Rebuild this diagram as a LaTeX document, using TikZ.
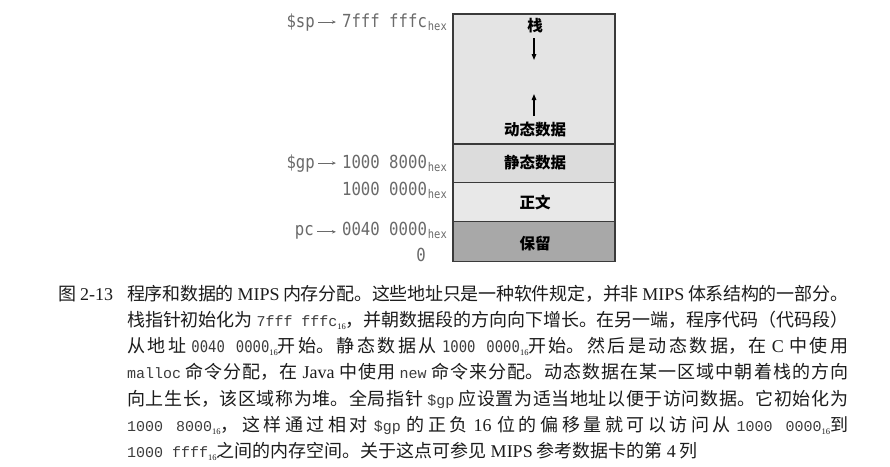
\documentclass[tikz,border=0pt]{standalone}
\usepackage{fontspec}
\setmainfont{Noto Sans CJK SC}
\newfontfamily\latfont{Liberation Serif}
\newfontfamily\codefont{Liberation Mono}
\newfontfamily\lblfont[FakeStretch=0.87]{DejaVu Sans Mono}
\usetikzlibrary{arrows.meta}
\XeTeXlinebreaklocale "zh"
\XeTeXlinebreakskip=0pt plus 4pt minus 0.8pt

\definecolor{segline}{HTML}{3A3A3A}
\definecolor{lightseg}{HTML}{E4E4E4}
\definecolor{midseg}{HTML}{DCDCDC}
\definecolor{paleseg}{HTML}{E8E8E8}
\definecolor{darkseg}{HTML}{A8A8A8}
\definecolor{lblgray}{HTML}{6A6A6A}
\definecolor{capink}{HTML}{1C1C1C}
\definecolor{codeink}{HTML}{3C3C3C}

% caption helpers
\newcommand\latw[1]{{\latfont #1}}
\newcommand\cdw[1]{{\color{codeink}\codefont\fontsize{15}{16}\selectfont #1}}
\newcommand\cdsans[1]{{\color{codeink}\lblfont\fontsize{16}{18}\selectfont #1}}
\newcommand\sixteen{\raisebox{-3pt}{\latfont\fontsize{8.5}{9}\selectfont 16}}
% address labels beside the memory map
\newcommand\hexaddr[1]{{\lblfont\fontsize{18}{20}\selectfont #1}\kern1pt\raisebox{-3.5pt}{\lblfont\fontsize{12}{13}\selectfont hex}}

\begin{document}
\begin{tikzpicture}[x=1pt,y=-1pt,
  seg/.style={draw=segline, line width=1.5pt, minimum width=162pt,
    anchor=north west, inner sep=0pt, outer sep=0pt},
  boxlbl/.style={font=\bfseries\fontsize{15.5}{17}\selectfont, inner sep=0pt, text=black},
  growarrow/.style={-{Triangle[length=6pt,width=4.5pt]}, line width=1.3pt, black},
  reglbl/.style={anchor=base east, inner sep=0pt, text=lblgray,
    font=\lblfont\fontsize{18}{20}\selectfont},
  addrlbl/.style={anchor=base east, inner sep=0pt, text=lblgray},
  ptr/.style={-{Stealth[length=4pt,width=3.5pt]}, line width=0.8pt, lblgray,
    shorten <=3pt, shorten >=6pt},
  capline/.style={anchor=base west, inner sep=0pt, text=capink,
    font=\fontsize{18}{26.3}\selectfont}
]
\useasboundingbox (0,0) rectangle (890,466);
\fill[white] (0,0) rectangle (890,466);

% memory segments, top to bottom
\node[seg, fill=lightseg, minimum height=130pt] (dyn) at (453,14) {};
\node[seg, fill=midseg, minimum height=38.5pt] (stat) at (453,144) {};
\node[seg, fill=paleseg, minimum height=39pt] (txt) at (453,182.5) {};
\node[seg, fill=darkseg, minimum height=40pt] (resv) at (453,221.5) {};

% segment labels
\node[boxlbl] (zhan) at (535,26) {栈};
\node[boxlbl] (dynl) at (535,130) {动态数据};
\node[boxlbl] (statl) at (535,162.5) {静态数据};
\node[boxlbl] (txtl) at (535,202) {正文};
\node[boxlbl] (resvl) at (535,244) {保留};

% stack grows down, heap grows up
\coordinate (downstart) at (534,38);
\coordinate (downend) at (534,60);
\coordinate (upstart) at (534,116);
\coordinate (upend) at (534,94);
\draw[growarrow] (downstart) -- (downend);
\draw[growarrow] (upstart) -- (upend);

% register pointers and addresses
\node[reglbl] (sp) at (315,27) {\$sp};
\node[addrlbl] (spaddr) at (447,27) {\hexaddr{7fff fffc}};
\draw[ptr] (sp.east) -- (sp.east -| spaddr.west);

\node[reglbl] (gp) at (315,168) {\$gp};
\node[addrlbl] (gpaddr) at (447,168) {\hexaddr{1000 8000}};
\draw[ptr] (gp.east) -- (gp.east -| gpaddr.west);

\node[addrlbl] (dataaddr) at (447,195) {\hexaddr{1000 0000}};

\node[reglbl] (pc) at (314,235) {pc};
\node[addrlbl] (pcaddr) at (447,235) {\hexaddr{0040 0000}};
\draw[ptr] (pc.east) -- (pc.east -| pcaddr.west);

\node[reglbl] (zero) at (426,261) {0};

% caption
\node[capline] (capno) at (58,300) {图 \latw{2-13}};
\node[capline] (capbody) at (127,300) {\parbox[t]{721pt}{%
程序和数据的 \latw{MIPS} 内存分配。这些地址只是一种软件规定，并非 \latw{MIPS} 体系结构的一部分。\linebreak
栈指针初始化为 \cdw{7fff fffc}\sixteen，并朝数据段的方向向下增长。在另一端，程序代码（代码段）\linebreak
从地址 \cdsans{0040 0000}\sixteen 开始。静态数据从 \cdsans{1000 0000}\sixteen 开始。然后是动态数据，在 \latw{C} 中使用\linebreak
\cdw{malloc} 命令分配，在 \latw{Java} 中使用 \cdw{new} 命令来分配。动态数据在某一区域中朝着栈的方向\linebreak
向上生长，该区域称为堆。全局指针 \cdw{\$gp} 应设置为适当地址以便于访问数据。它初始化为\linebreak
\cdw{1000 8000}\sixteen，这样通过相对 \cdw{\$gp} 的正负 \latw{16} 位的偏移量就可以访问从 \cdw{1000 0000}\sixteen 到\linebreak
\cdw{1000 ffff}\sixteen 之间的内存空间。关于这点可参见 \latw{MIPS} 参考数据卡的第 \latw{4} 列}};
\end{tikzpicture}
\end{document}
